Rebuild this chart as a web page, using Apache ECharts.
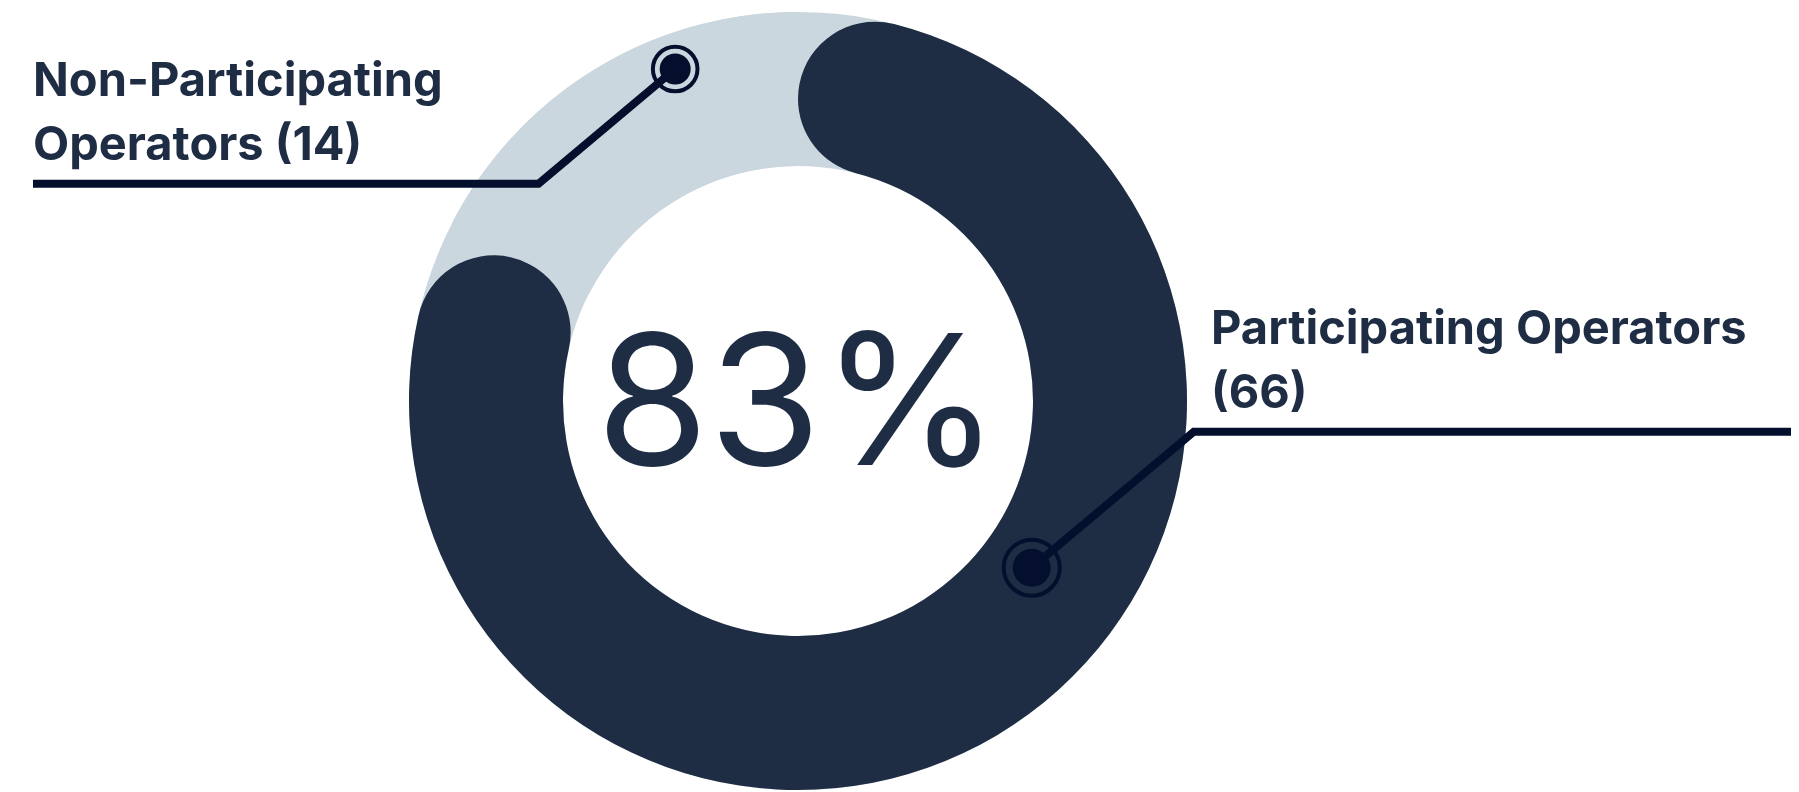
<!DOCTYPE html>
<html>
<head>
<meta charset="utf-8">
<title>Operator participation</title>
<script src="https://cdn.jsdelivr.net/npm/echarts@6/dist/echarts.min.js"></script>
<style>
  html, body { margin: 0; padding: 0; background: #ffffff; }
  #chart { width: 1799px; height: 792px; }
</style>
</head>
<body>
<div id="chart"></div>
<script>
// Operators grouped by participation
const categories = ['Participating Operators', 'Non-Participating Operators'];
const operatorCounts = [66, 14];

const total = operatorCounts.reduce((a, b) => a + b, 0);
const participationPct = Math.round(operatorCounts[0] / total * 100);

// palette
const DARK = '#1e2d44';
const LIGHT = '#cbd7de';
const INK = '#030f2d';

// ring geometry (px)
const CX = 798, CY = 401, R_OUT = 389, R_IN = 235;
const CAP = (R_OUT - R_IN) / 2;

// callouts: marker placed at a polar spot on the ring (deg clockwise from 12 o'clock,
// fraction of outer radius), leader rises at 40deg to a shelf line that runs to `endX`
const callouts = [
  { angle: 125.5, rFrac: 0.738, shelfDy: 30.7, endX: 1791, textX: 1211, ring: 28, dot: 19, width: 580 },
  { angle: -20.3, rFrac: 0.91, shelfDy: -217.3, endX: 33, textX: 33, ring: 22.3, dot: 15.5, width: 440 }
];
const LEG_SLOPE = Math.tan(40 * Math.PI / 180);
const LABEL_FONT = 47, LABEL_LH = 64;

callouts.forEach(c => {
  const a = c.angle * Math.PI / 180;
  const r = c.rFrac * R_OUT;
  c.ax = CX + r * Math.sin(a);
  c.ay = CY - r * Math.cos(a);
  c.sy = CY + c.shelfDy;
  const dir = c.endX > c.ax ? 1 : -1;
  c.ex = c.ax + dir * Math.abs(c.ay - c.sy) / LEG_SLOPE;
});

const chart = echarts.init(document.getElementById('chart'), null, { renderer: 'canvas' });

// headline share in the hole of the ring
const overlays = [{
  type: 'text', z: 5, silent: true,
  x: CX, y: CY + 9,
  style: {
    text: participationPct + '%',
    fill: DARK,
    fontFamily: 'Inter',
    fontWeight: 400,
    fontSize: 182,
    align: 'center',
    verticalAlign: 'middle'
  }
}];

// leader lines and target markers, drawn above the ring
callouts.forEach(c => {
  overlays.push({
    type: 'polyline', z: 19, silent: true,
    shape: { points: [[c.ax, c.ay], [c.ex, c.sy], [c.endX, c.sy]] },
    style: { stroke: INK, lineWidth: 8, fill: null, lineJoin: 'miter', lineCap: 'butt' }
  });
  overlays.push({
    type: 'circle', z: 20, silent: true,
    shape: { cx: c.ax, cy: c.ay, r: c.ring },
    style: { fill: '#ffffff00', stroke: INK, lineWidth: 4 }
  });
  overlays.push({
    type: 'circle', z: 21, silent: true,
    shape: { cx: c.ax, cy: c.ay, r: c.dot },
    style: { fill: INK }
  });
});

chart.setOption({
  backgroundColor: '#ffffff',
  animation: false,
  graphic: { elements: overlays },
  series: [
    {
      // full track behind the values
      type: 'pie',
      silent: true,
      center: [CX, CY],
      radius: [R_IN, R_OUT],
      emphasis: { disabled: true },
      itemStyle: { color: LIGHT, borderWidth: 0 },
      label: { show: false },
      labelLine: { show: false },
      data: [{ value: total, name: 'total' }]
    },
    {
      type: 'pie',
      center: [CX, CY],
      radius: [R_IN, R_OUT],
      startAngle: 90,
      clockwise: true,
      avoidLabelOverlap: false,
      emphasis: { disabled: true },
      data: categories.map((name, i) => ({
        name: name,
        value: operatorCounts[i],
        itemStyle: i === 0
          ? { color: DARK, borderRadius: CAP, borderWidth: 0 }
          : { color: LIGHT, borderRadius: 0, borderWidth: 0 },
        label: { width: callouts[i].width }
      })),
      label: {
        show: true,
        position: 'outside',
        formatter: '{b} ({c})',
        overflow: 'break',
        fontFamily: 'Inter',
        fontWeight: 700,
        fontSize: LABEL_FONT,
        lineHeight: LABEL_LH,
        color: DARK,
        align: 'left'
      },
      labelLine: { show: false },
      labelLayout: function (params) {
        const c = callouts[params.dataIndex];
        return {
          x: c.textX,
          y: c.sy - 134,
          align: 'left',
          verticalAlign: 'top'
        };
      }
    }
  ]
});
</script>
</body>
</html>
